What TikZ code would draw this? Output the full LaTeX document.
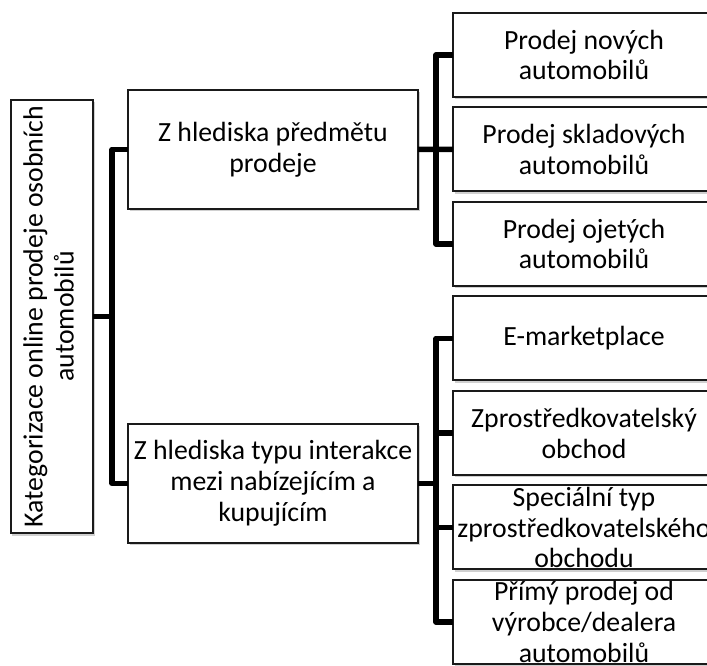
\documentclass[tikz,border=0pt]{standalone}
\usepackage{fontspec}
\setmainfont{Carlito}
\usepackage{tikz}
\usetikzlibrary{positioning, shadows}
\definecolor{frame25}{RGB}{26, 26, 26}
\definecolor{shadow25}{RGB}{120, 120, 120}

\begin{document}
\begin{tikzpicture}[
    node distance=0.21cm and 0.5cm,
    every node/.style={font=\fontsize{15.8}{17.6}\selectfont},
    block_root/.style={
      rectangle,
      draw=frame25,
      line width=0.04cm,
      fill=white,
      align=center,
      outer sep=0,
      minimum width=1.64cm,
      minimum height=8.42cm,
      drop shadow={shadow xshift=0.03cm, shadow yshift=-0.05cm, fill=shadow25, opacity=0.35}
    },
    block_mid/.style={
      rectangle,
      draw=frame25,
      line width=0.04cm,
      fill=white,
      align=center,
      outer sep=0,
      inner sep=0,
      minimum width=5.8cm,
      minimum height=2.38cm,
      drop shadow={shadow xshift=0.03cm, shadow yshift=-0.05cm, fill=shadow25, opacity=0.35}
    },
    block_leaf/.style={
      rectangle,
      draw=frame25,
      line width=0.04cm,
      fill=white,
      align=center,
      outer sep=0,
      inner sep=0,
      minimum width=5.24cm,
      minimum height=1.68cm,
      drop shadow={shadow xshift=0.03cm, shadow yshift=-0.05cm, fill=shadow25, opacity=0.35}
    },
    link/.style={draw, line width=0.11cm, line join=round} % thick connectors
  ]
  \useasboundingbox (0,0) rectangle (14.14,-13.32);

  % Nodes
  \node [block_root] (root) at (1.04,-6.33) {\rotatebox{90}{\begin{tabular}{@{}c@{}}Kategorizace online prodeje osobních\\ automobilů\end{tabular}}};

  \node [block_mid] (subject) at (5.46,-2.99) {Z hlediska předmětu\\ prodeje};
  \node [block_mid] (interaction) at (5.46,-9.67) {Z hlediska typu interakce\\ mezi nabízejícím a\\ kupujícím};

  \node [block_leaf] (newcars) at (11.68,-1.10) {Prodej nových\\ automobilů};
  \node [block_leaf, below=of newcars] (stockcars) {Prodej skladových\\ automobilů};
  \node [block_leaf, below=of stockcars] (usedcars) {Prodej ojetých\\ automobilů};
  \node [block_leaf, below=of usedcars] (market) {E-marketplace};
  \node [block_leaf, below=of market] (broker) {Zprostředkovatelský\\ obchod};
  \node [block_leaf, below=of broker] (special) {Speciální typ\\ zprostředkovatelského\\ obchodu};
  \node [block_leaf, below=of special] (direct) {Přímý prodej od\\ výrobce/dealera\\ automobilů};

  \coordinate (forkroot) at (2.24,-6.33);
  \coordinate (forksubject) at (8.72,-2.99);
  \coordinate (forkinter) at (8.72,-9.67);

  % Connectors
  \draw[link] (root.east) -- (forkroot);
  \draw[link] (subject.west) -| (forkroot) |- (interaction.west);

  \draw[link] (subject.east) -- (stockcars.west);
  \draw[link] (newcars.west) -| (forksubject) |- (usedcars.west);

  \draw[link] (interaction.east) -- (forkinter);
  \draw[link] (market.west) -| (forkinter) |- (direct.west);
  \draw[link] (forkinter) |- (broker.west);
  \draw[link] (forkinter) |- (special.west);

\end{tikzpicture}
\end{document}
